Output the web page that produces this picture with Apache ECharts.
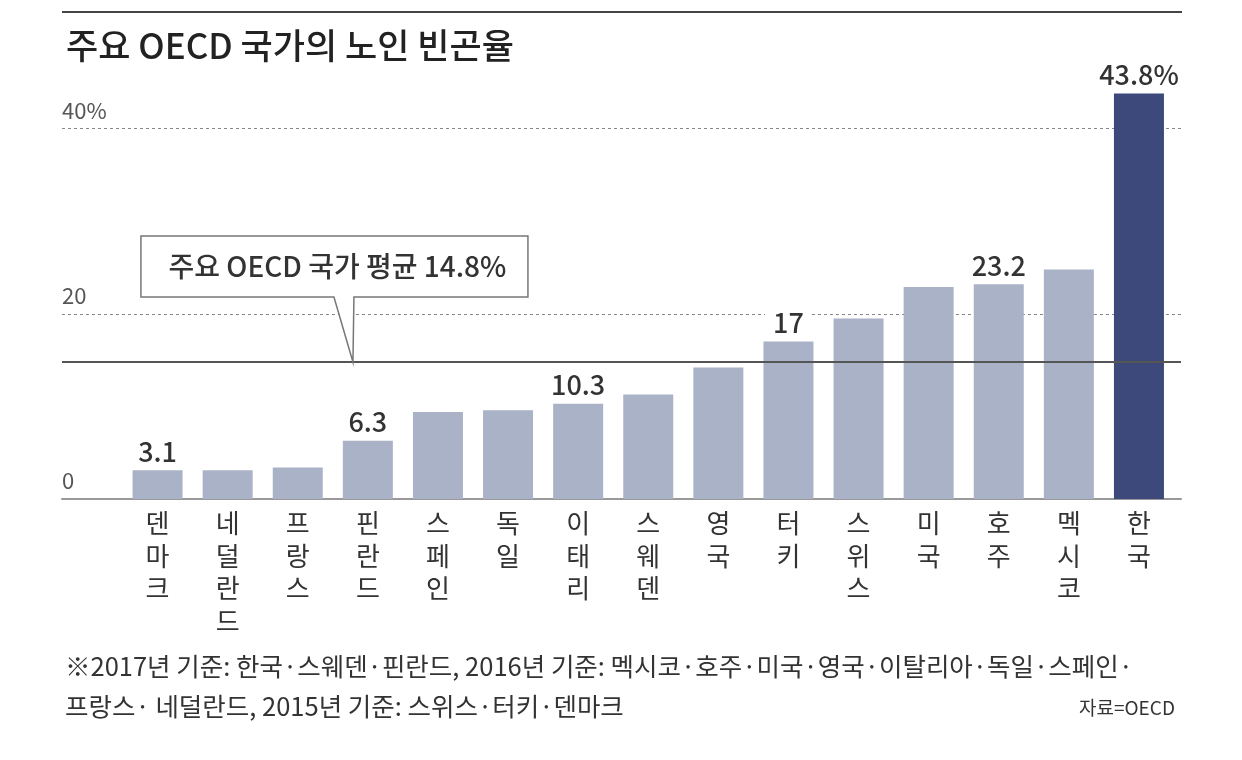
<!DOCTYPE html>
<html>
<head>
<meta charset="utf-8">
<script src="https://cdn.jsdelivr.net/npm/echarts@6/dist/echarts.min.js"></script>
<style>
    html, body {margin: 0; padding: 0; background: #fff;}
    #chart {width: 1242px; height: 760px;}
</style>
</head>
<body>
<div id="chart"></div>
<script>
    // data
    var countries = ['덴마크', '네덜란드', '프랑스', '핀란드', '스페인', '독일', '이태리', '스웨덴',
        '영국', '터키', '스위스', '미국', '호주', '멕시코', '한국'];
    var rates = [3.1, 3.1, 3.4, 6.3, 9.4, 9.6, 10.3, 11.3, 14.2, 17, 19.5, 22.9, 23.2, 24.8, 43.8];
    var valueLabels = ['3.1', '', '', '6.3', '', '', '10.3', '', '', '17', '', '', '23.2', '', '43.8%'];
    var highlight = '한국';
    var average = 14.8;
    var averageText = '주요 OECD 국가 평균 14.8%';
    var yMin = 0, yMax = 40, yStep = 20;
    var titleText = '주요 OECD 국가의 노인 빈곤율';
    var noteLines = [
        '※2017년 기준: 한국·스웨덴·핀란드, 2016년 기준: 멕시코·호주·미국·영국·이탈리아·독일·스페인·',
        '프랑스· 네덜란드, 2015년 기준: 스위스·터키·덴마크'
    ];
    var sourceText = '자료=OECD';

    var FONT = '"Noto Sans CJK KR", "Noto Sans", sans-serif';
    var LIGHT = '#aab2c7';
    var DARK = '#3d497a';

    var chart = echarts.init(document.getElementById('chart'));

    var barData = rates.map(function (v, i) {
        return {
            value: v,
            itemStyle: {color: countries[i] === highlight ? DARK : LIGHT},
            label: {show: valueLabels[i] !== '', formatter: valueLabels[i]}
        };
    });

    var option = {
        animation: false,
        textStyle: {fontFamily: FONT},
        title: [
            {
                text: titleText, left: 61, top: 23,
                textStyle: {fontFamily: FONT, fontSize: 35, fontWeight: 500, color: '#222'}
            },
            {
                text: noteLines[0], left: 60, top: 649,
                textStyle: {fontFamily: FONT, fontSize: 25.5, fontWeight: 'normal', color: '#333'}
            },
            {
                text: noteLines[1], left: 60, top: 689,
                textStyle: {fontFamily: FONT, fontSize: 25.5, fontWeight: 'normal', color: '#333'}
            },
            {
                text: sourceText, right: 62, top: 693,
                textStyle: {fontFamily: FONT, fontSize: 19, fontWeight: 'normal', color: '#333'}
            }
        ],
        grid: [
            {left: 62, right: 61, top: 128.7, bottom: 261},
            {left: 122.5, right: 68, top: 128.7, bottom: 261}
        ],
        xAxis: [
            {
                gridIndex: 0, type: 'value', min: 0, max: 1,
                axisLine: {show: true, onZero: false, lineStyle: {color: '#999', width: 2}},
                axisTick: {show: false}, axisLabel: {show: false}, splitLine: {show: false}
            },
            {
                gridIndex: 1, type: 'category', data: countries,
                axisLine: {show: false}, axisTick: {show: false},
                axisLabel: {
                    interval: 0, margin: 8, fontSize: 26, lineHeight: 32.5, color: '#333',
                    fontFamily: FONT, verticalAlign: 'top',
                    formatter: function (v) { return v.split('').join('\n'); }
                }
            }
        ],
        yAxis: [
            {
                gridIndex: 0, type: 'value', min: yMin, max: yMax, interval: yStep,
                axisLine: {show: false}, axisTick: {show: false},
                splitLine: {show: true, lineStyle: {color: '#888', width: 1, type: [3, 3]}},
                axisLabel: {
                    inside: true, margin: 0, fontSize: 22, color: '#555', fontFamily: FONT,
                    verticalAlign: 'bottom', padding: [0, 0, 7, 0],
                    formatter: function (v) { return v === yMax ? v + '%' : String(v); }
                }
            },
            {
                gridIndex: 1, type: 'value', min: yMin, max: yMax, interval: yStep,
                show: false
            }
        ],
        series: [
            {
                type: 'bar', xAxisIndex: 1, yAxisIndex: 1,
                barWidth: 50, clip: false, z: 2,
                label: {
                    position: 'top', distance: 5, fontSize: 27, color: '#333',
                    fontFamily: FONT, fontWeight: 500,
                    backgroundColor: '#fff', padding: [0, 8, 0, 8]
                },
                data: barData
            },
            {
                type: 'line', xAxisIndex: 0, yAxisIndex: 0, z: 5,
                symbol: 'none', silent: true,
                lineStyle: {color: '#555', width: 2},
                data: [[0, average], [1, average]]
            }
        ]
    };
    chart.setOption(option);

    // callout box pointing at the average line
    var tip = chart.convertToPixel({xAxisIndex: 0, yAxisIndex: 0}, [0.26, average]);
    var bx0 = tip[0] - 212, bx1 = tip[0] + 175, by0 = tip[1] - 126, by1 = tip[1] - 65;
    chart.setOption({
        graphic: [
            {
                type: 'line', shape: {x1: 62, y1: 12, x2: 1182, y2: 12},
                style: {stroke: '#444', lineWidth: 2}
            },
            {
                type: 'polygon', z: 10,
                shape: {
                    points: [[tip[0] - 19, by1], [bx0, by1], [bx0, by0], [bx1, by0], [bx1, by1],
                        [tip[0] + 1, by1], [tip[0], tip[1]]]
                },
                style: {fill: '#fff', stroke: '#777', lineWidth: 1.5}
            },
            {
                type: 'text', z: 11,
                x: (bx0 + bx1) / 2 + 3, y: (by0 + by1) / 2,
                style: {
                    text: averageText, fill: '#333', font: '500 28px ' + FONT,
                    align: 'center', verticalAlign: 'middle'
                }
            }
        ]
    });
</script>
</body>
</html>
